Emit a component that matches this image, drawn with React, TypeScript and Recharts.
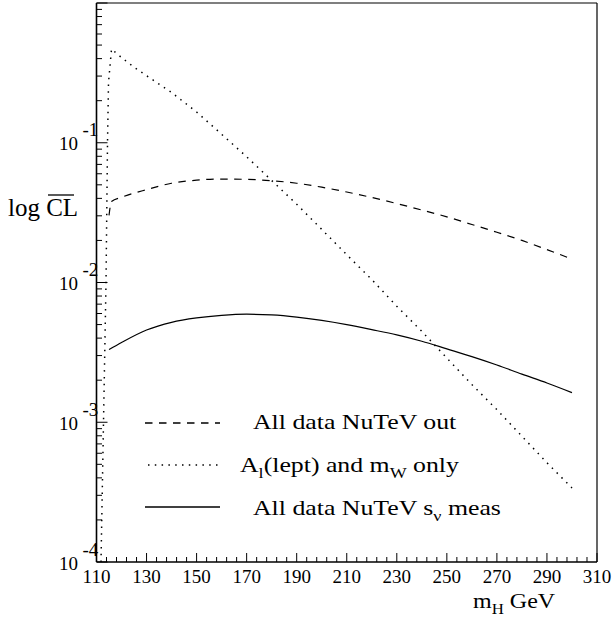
import React from 'react';
import { LineChart, Line, XAxis, YAxis, ReferenceLine, Legend } from 'recharts';

const FONT = '"Liberation Serif", "Times New Roman", Times, serif';

// All data, NuTeV out (dashed)
const mhNoNutev = [115, 116, 120, 130, 140, 150, 160, 170, 180, 190, 200, 210, 220, 230, 240, 250, 260, 270, 280, 290, 300];
const clNoNutev = [0.0302, 0.038, 0.0407, 0.0462, 0.0513, 0.054, 0.055, 0.0547, 0.0535, 0.0513, 0.0481, 0.0444, 0.0406, 0.0367, 0.033, 0.0295, 0.026, 0.0229, 0.02, 0.0172, 0.0147];

// A_l(lept) and m_W only (dotted)
const mhAlMw = [111.8, 112.8, 113.8, 114.4, 114.8, 116, 120, 125, 130, 140, 150, 160, 170, 180, 190, 200, 210, 220, 230, 240, 250, 260, 270, 280, 290, 300];
const clAlMw = [0.0001, 0.001, 0.01, 0.1, 0.27, 0.468, 0.407, 0.347, 0.302, 0.229, 0.166, 0.115, 0.0794, 0.0537, 0.0363, 0.024, 0.0158, 0.0105, 0.00676, 0.00447, 0.00288, 0.00186, 0.00123, 0.000794, 0.000513, 0.000339];

// All data, NuTeV s_nu measured (solid)
const mhNutevS = [115, 120, 130, 140, 150, 160, 170, 180, 190, 200, 210, 220, 230, 240, 250, 260, 270, 280, 290, 300];
const clNutevS = [0.00331, 0.00372, 0.00457, 0.00519, 0.00558, 0.00582, 0.00593, 0.00586, 0.00565, 0.00535, 0.00499, 0.0046, 0.00422, 0.0038, 0.00335, 0.00295, 0.00257, 0.00221, 0.00191, 0.00163];

const xMajor = [110, 130, 150, 170, 190, 210, 230, 250, 270, 290, 310];
const yDecades = [1e-4, 1e-3, 1e-2, 1e-1, 1];

const toRows = (xs: number[], ys: number[]) => xs.map((m, i) => ({ mh: m, cl: ys[i] }));

const dashedData = toRows(mhNoNutev, clNoNutev);
const dottedData = toRows(mhAlMw, clAlMw);
const solidData = toRows(mhNutevS, clNutevS);

// minor ticks every 4 GeV between the majors
const xTicks: number[] = [];
for (let i = 0; i < xMajor.length - 1; i++) {
  for (let k = 0; k < 5; k++) xTicks.push(xMajor[i] + k * 4);
}
xTicks.push(xMajor[xMajor.length - 1]);

const yTicks: number[] = [];
yDecades.slice(0, -1).forEach((d) => {
  for (let k = 1; k < 10; k++) yTicks.push(k * d);
});
yTicks.push(1);

const isDecade = (v: number) => {
  const l = Math.log10(v);
  return Math.abs(l - Math.round(l)) < 1e-6;
};

const XTick = (props: any) => {
  const { x, y, payload } = props;
  const v = payload.value;
  const major = (v - 110) % 20 === 0;
  return (
    <g>
      <line x1={x} x2={x} y1={y} y2={y - (major ? 9 : 5)} stroke="#000" strokeWidth={1} />
      {major && (
        <text x={x} y={y + 21} textAnchor="middle" fontFamily={FONT} fontSize={19} fill="#000">
          {v}
        </text>
      )}
    </g>
  );
};

const YTick = (props: any) => {
  const { x, y, payload } = props;
  const v = payload.value;
  const major = isDecade(v);
  const exp = Math.round(Math.log10(v));
  return (
    <g>
      <line x1={x} x2={x + (major ? 11 : 5.5)} y1={y} y2={y} stroke="#000" strokeWidth={1} />
      {major && exp < 0 && (
        <g fontFamily={FONT} fill="#000">
          <text x={x - 18.5} y={y + 7.5} textAnchor="end" fontSize={19}>10</text>
          <text x={x - 14} y={y - 6.5} textAnchor="start" fontSize={19}>{exp}</text>
        </g>
      )}
    </g>
  );
};

const YTitle = () => (
  <g fontFamily={FONT} fill="#000">
    <text x={8} y={216} fontSize={25}>log CL</text>
    <line x1={48} x2={74} y1={195} y2={195} stroke="#000" strokeWidth={1.3} />
  </g>
);

const XTitle = () => (
  <text transform="translate(473,608) scale(1.2,1)" fontFamily={FONT} fontSize={20} fill="#000">
    m<tspan fontSize={14} dy={6}>H</tspan>
    <tspan dy={-6}> GeV</tspan>
  </text>
);

const legendRows = [
  { dash: '7.5 6.5', x1: 145, y: 423, tx: 253, ty: 429 },
  { dash: '1.5 5.3', x1: 148, y: 465, tx: 240, ty: 471.5 },
  { dash: undefined, x1: 145, y: 507, tx: 253, ty: 514.5 },
];

const LegendBox = () => {
  const ox = 140;
  const oy = 400;
  const [r1, r2, r3] = legendRows;
  return (
    <svg width={380} height={125} style={{ overflow: 'visible', display: 'block' }}>
      <g transform={`translate(${-ox},${-oy})`} fontFamily={FONT} fill="#000">
        {legendRows.map((r, i) => (
          <line key={i} x1={r.x1} x2={220} y1={r.y} y2={r.y} stroke="#000" strokeWidth={1.3} strokeDasharray={r.dash} />
        ))}
        <text transform={`translate(${r1.tx},${r1.ty}) scale(1.2,1)`} fontSize={21.5}>All data NuTeV out</text>
        <text transform={`translate(${r2.tx},${r2.ty}) scale(1.2,1)`} fontSize={21.5}>
          A<tspan fontSize={15} dy={6}>l</tspan>
          <tspan dy={-6}>(lept) and m</tspan>
          <tspan fontSize={15} dy={6}>W</tspan>
          <tspan dy={-6}> only</tspan>
        </text>
        <text transform={`translate(${r3.tx},${r3.ty}) scale(1.2,1)`} fontSize={21.5}>
          All data NuTeV s<tspan fontSize={15} dy={6}>ν</tspan>
          <tspan dy={-6}> meas</tspan>
        </text>
      </g>
    </svg>
  );
};

export default function App() {
  return (
    <div style={{ position: 'absolute', left: 0, top: 0, width: 613, height: 621, background: '#fff' }}>
      <LineChart width={613} height={621} margin={{ top: 3, right: 16, bottom: 0, left: 0 }}>
        <XAxis
          dataKey="mh"
          type="number"
          domain={[110, 310]}
          ticks={xTicks}
          interval={0}
          allowDataOverflow
          height={59}
          tickSize={0}
          tickMargin={0}
          tickLine={false}
          axisLine={{ stroke: '#000', strokeWidth: 1.6 }}
          tick={<XTick />}
          label={{ content: () => <XTitle /> }}
        />
        <YAxis
          dataKey="cl"
          type="number"
          scale="log"
          domain={[1e-4, 1]}
          ticks={yTicks}
          interval={0}
          allowDataOverflow
          width={96.5}
          tickSize={0}
          tickMargin={0}
          tickLine={false}
          axisLine={{ stroke: '#000', strokeWidth: 1.6 }}
          tick={<YTick />}
          label={{ content: () => <YTitle /> }}
        />
        <ReferenceLine x={310} stroke="#000" strokeWidth={1.2} />
        <ReferenceLine y={1} stroke="#000" strokeWidth={1.2} />
        <Line data={dashedData} dataKey="cl" type="monotone" stroke="#000" strokeWidth={1.2} strokeDasharray="7.5 6.5" dot={false} isAnimationActive={false} />
        <Line data={dottedData} dataKey="cl" type="linear" stroke="#000" strokeWidth={1.5} strokeDasharray="1.5 5.3" dot={false} isAnimationActive={false} />
        <Line data={solidData} dataKey="cl" type="monotone" stroke="#000" strokeWidth={1.2} dot={false} isAnimationActive={false} />
        <Legend
          verticalAlign="middle"
          layout="horizontal"
          align="center"
          content={() => <LegendBox />}
          wrapperStyle={{ position: 'absolute', left: 140, top: 400, width: 380, height: 125 }}
        />
      </LineChart>
    </div>
  );
}
